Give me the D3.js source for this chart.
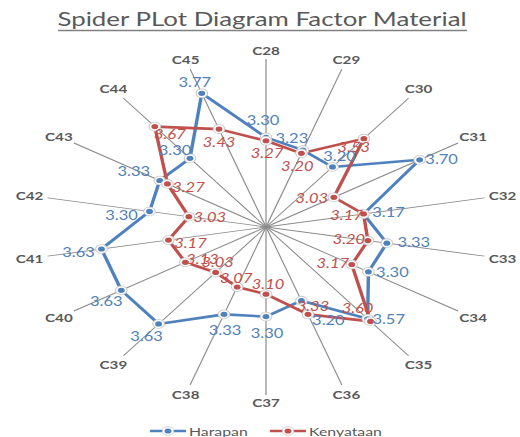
<!DOCTYPE html>
<html><head><meta charset="utf-8">
<script src="https://cdn.jsdelivr.net/npm/d3@7/dist/d3.min.js"></script>
<style>body{margin:0;background:#fff}svg{display:block}</style>
</head><body><svg id="chart" width="520" height="437"></svg>
<script>
const categories = ["C28","C29","C30","C31","C32","C33","C34","C35","C36","C37","C38","C39","C40","C41","C42","C43","C44","C45"];
const harapan   = [3.30,3.23,3.20,3.70,3.17,3.33,3.30,3.57,3.20,3.30,3.33,3.63,3.63,3.63,3.30,3.33,3.30,3.77];
const kenyataan = [3.27,3.20,3.53,3.03,3.17,3.20,3.17,3.60,3.33,3.10,3.07,3.03,3.13,3.17,3.03,3.27,3.67,3.43];
const seriesNames = ["Harapan","Kenyataan"];
const radialDomain = [2.5, 4.0];
const titleText = "Spider PLot Diagram Factor Material";

// layout (screen px offsets of value labels)
const blueLabelOff = [[-3,-17],[-11,-12],[7,-11],[22,0],[25,-2],[27,-1],[24,1],[21,1],[27,20],[1,17],[1,16],[-12,12],[-15,11],[-23,3],[-28,4],[-26,-9],[-15,-8],[-7,-11]];
const redLabelOff  = [[1,13],[-4,13],[-10,9],[-22,1],[-17,1],[-19,-1],[-19,-1],[-13,-13],[5,-8],[2,-10],[-1,-9],[2,-10],[17,-3],[22,3],[21,1],[21,3],[15,8],[0,13]];

const SX = 1.32, cx = 266, cy = 227, R = 168;
const BLUE = "#4F81BD", RED = "#C0504D", GREY = "#595959";
const FONT = "Lato, 'Open Sans', sans-serif";

const svg = d3.select("#chart");
const r = d3.scaleLinear().domain(radialDomain).range([0, R]);
const ang = d3.scalePoint().domain(categories).range([0, 2*Math.PI*(categories.length-1)/categories.length]);
const px = (c, v) => r(v) * Math.sin(ang(c));
const py = (c, v) => -r(v) * Math.cos(ang(c));

// title
svg.append("text").attr("transform", `translate(262,26) scale(${SX},1)`)
  .attr("text-anchor","middle").attr("font-family",FONT).attr("font-size",19)
  .attr("fill",GREY).attr("textLength",310).attr("lengthAdjust","spacingAndGlyphs").text(titleText);
svg.append("line").attr("x1",58).attr("x2",467).attr("y1",30.5).attr("y2",30.5)
  .attr("stroke","#808080").attr("stroke-width",1.3);

const g = svg.append("g").attr("transform", `translate(${cx},${cy}) scale(${SX},1)`);

// spokes
g.selectAll("line.spoke").data(categories).join("line").attr("class","spoke")
  .attr("x1",0).attr("y1",0)
  .attr("x2", c => px(c, radialDomain[1])).attr("y2", c => py(c, radialDomain[1]))
  .attr("stroke","#8a8a8a").attr("stroke-width",0.9);

// category labels
const labR = c => R + 8 + 6*Math.abs(Math.sin(ang(c)));
g.selectAll("text.cat").data(categories).join("text").attr("class","cat")
  .attr("x", c => labR(c)*Math.sin(ang(c))).attr("y", c => -labR(c)*Math.cos(ang(c)))
  .attr("text-anchor","middle").attr("dominant-baseline","central")
  .attr("font-family",FONT).attr("font-weight","bold").attr("font-size",11.5).attr("fill",GREY)
  .text(c => c);

const series = [
  {name: seriesNames[0], values: harapan, color: BLUE, off: blueLabelOff, italic: false},
  {name: seriesNames[1], values: kenyataan, color: RED, off: redLabelOff, italic: true}
];
const line = d3.lineRadial().angle((d,i) => ang(categories[i])).radius(d => r(d)).curve(d3.curveLinearClosed);

series.forEach(s => {
  g.append("path").attr("d", line(s.values)).attr("fill","none")
    .attr("stroke", s.color).attr("stroke-width",2.6).attr("stroke-linejoin","round");
});
series.forEach(s => {
  const m = g.append("g");
  m.selectAll("circle.o").data(s.values).join("circle").attr("class","o")
    .attr("cx",(d,i)=>px(categories[i],d)).attr("cy",(d,i)=>py(categories[i],d))
    .attr("r",4.4).attr("fill","#fff").attr("stroke","#c8c8c8").attr("stroke-width",0.8);
  m.selectAll("circle.i").data(s.values).join("circle").attr("class","i")
    .attr("cx",(d,i)=>px(categories[i],d)).attr("cy",(d,i)=>py(categories[i],d))
    .attr("r",2.6).attr("fill",s.color);
});
series.forEach(s => {
  g.append("g").selectAll("text").data(s.values).join("text")
    .attr("x",(d,i)=>px(categories[i],d) + s.off[i][0]/SX)
    .attr("y",(d,i)=>py(categories[i],d) + s.off[i][1])
    .attr("text-anchor","middle").attr("dominant-baseline","central")
    .attr("font-family",FONT).attr("font-size",12.5).attr("font-style", s.italic ? "italic" : "normal")
    .attr("fill", s.color).text(d => d3.format(".2f")(d));
});

// legend
const legendX = [150, 270];
series.forEach((s,i) => {
  const lg = svg.append("g").attr("transform", `translate(${legendX[i]},431)`);
  lg.append("line").attr("x1",0).attr("x2",36).attr("y1",0).attr("y2",0).attr("stroke",s.color).attr("stroke-width",2.6);
  lg.append("ellipse").attr("cx",18).attr("cy",0).attr("rx",4.4*SX).attr("ry",4.4).attr("fill","#fff").attr("stroke","#c8c8c8").attr("stroke-width",0.8);
  lg.append("ellipse").attr("cx",18).attr("cy",0).attr("rx",2.6*SX).attr("ry",2.6).attr("fill",s.color);
  lg.append("text").attr("transform",`translate(39,0) scale(${SX},1)`).attr("dominant-baseline","central")
    .attr("font-family",FONT).attr("font-size",12).attr("fill",GREY).text(s.name);
});
</script></body></html>
